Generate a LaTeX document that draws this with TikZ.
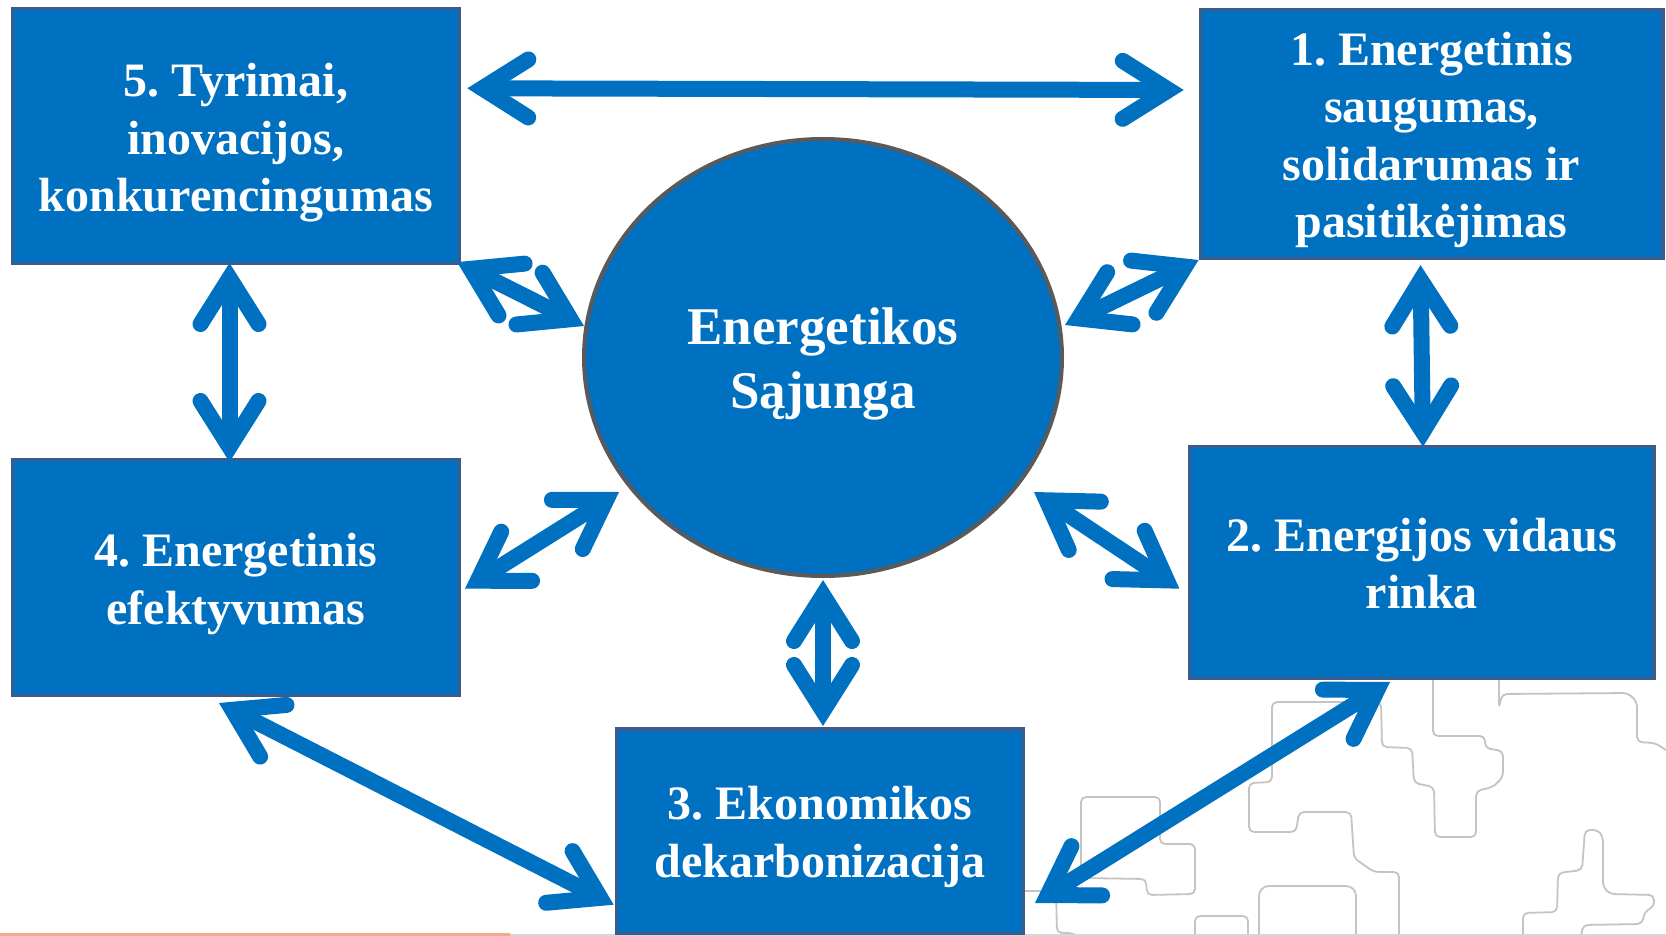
\documentclass[tikz,border=0pt]{standalone}
\usepackage{fontspec}
\setmainfont{Liberation Serif}
\usetikzlibrary{calc,shapes.geometric,arrows.meta}

\definecolor{mainblue}{HTML}{0070C0}
\definecolor{boxedge}{HTML}{3A5C8C}
\definecolor{ringgray}{HTML}{5A5A5A}
\definecolor{decogray}{HTML}{C4C4C4}
\definecolor{salmon}{HTML}{F2A98E}
\definecolor{edgegray}{HTML}{D6D6D6}

\pgfdeclarearrow{
  name = Chev,
  setup code = {
    \pgfarrowssettipend{15pt}
    \pgfarrowssetlineend{-2pt}
    \pgfarrowssetvisualbackend{-54pt}
    \pgfarrowssetbackend{-54pt}
    \pgfarrowshullpoint{15pt}{0pt}
    \pgfarrowsupperhullpoint{-54pt}{37pt}
  },
  drawing code = {
    \pgfsetdash{}{+0pt}
    \pgfsetlinewidth{16pt}
    \pgfsetroundcap
    \pgfsetmiterjoin
    \pgfpathmoveto{\pgfqpoint{-46pt}{29pt}}
    \pgfpathlineto{\pgfqpoint{0pt}{0pt}}
    \pgfpathlineto{\pgfqpoint{-46pt}{-29pt}}
    \pgfusepathqstroke
  },
}

\tikzset{
  box/.style={rectangle, draw=boxedge, line width=3.2pt, fill=mainblue, inner sep=0pt},
  btext/.style={text=white, font=\fontsize{48}{57.6}\selectfont\bfseries\frenchspacing, align=center, inner sep=0pt},
  etext/.style={text=white, font=\fontsize{53}{63.6}\selectfont\bfseries\frenchspacing, align=center, inner sep=0pt},
  conn/.style={draw=mainblue, line width=16pt, arrows={Chev-Chev}},
  deco/.style={draw=decogray, line width=1.8pt, rounded corners=5pt},
}

\begin{document}
\frenchspacing
\begin{tikzpicture}[x=1pt,y=-1pt]
\useasboundingbox (0,0) rectangle (1666,936);
\fill[white] (0,0) rectangle (1666,936);

% background decoration (bottom right)
\draw[deco] (1433,680) -- (1433,736) -- (1485,736) -- (1485,748) -- (1503,751) -- (1503,777) -- (1493,787) -- (1476,791) -- (1476,837) -- (1435,837) -- (1434,787) -- (1414,783) -- (1412,748) -- (1382,747) -- (1381,702) -- (1272,702) -- (1272,782) -- (1249,783) -- (1249,832) -- (1296,832) -- (1299,812) -- (1351,812) -- (1354,858) -- (1374,872) -- (1399,872) -- (1399,936);
\draw[deco] (1499,680) -- (1499,708) -- (1502,694) -- (1628,693) -- (1637,702) -- (1637,742) -- (1655,743) -- (1666,750);
\draw[deco] (1581,936) -- (1583,925) -- (1642,924) -- (1645,911) -- (1654,907) -- (1654,895) -- (1610,894) -- (1603,887) -- (1603,837) -- (1598,830) -- (1585,830) -- (1582,870) -- (1558,873) -- (1557,912) -- (1523,913) -- (1523,936);
\draw[deco] (1081,797) -- (1160,797) -- (1160,844) -- (1195,844) -- (1195,894) -- (1147,895) -- (1146,879) -- (1081,878) -- cycle;
\draw[deco] (1025,891) -- (1056,891) -- (1057,933) -- (1072,933) -- (1078,936);
\draw[deco] (1195,936) -- (1195,916) -- (1248,916) -- (1248,936);
\draw[deco,rounded corners=10pt] (1259,936) -- (1259,886) -- (1356,886) -- (1356,936);

% bottom edge lines
\draw[edgegray, line width=1.5pt] (510,935) -- (1666,935);
\draw[salmon, line width=2.6pt] (0,934.7) -- (510,934.7);

% nodes
\node[box, minimum width=447.4pt, minimum height=255.3pt] (b5) at (235.8,135.85) {};
\node[box, minimum width=462.8pt, minimum height=248.5pt] (b1) at (1431.6,134.15) {};
\node[box, minimum width=447.2pt, minimum height=235.8pt] (b4) at (235.8,577.5) {};
\node[box, minimum width=464.3pt, minimum height=231.5pt] (b2) at (1421.75,562.35) {};
\node[box, minimum width=407pt, minimum height=204.5pt] (b3) at (819.9,831.15) {};
\node[ellipse, draw=ringgray, line width=4pt, fill=mainblue, minimum width=478pt, minimum height=437pt, inner sep=0pt] (E) at (823,357.5) {};

% texts
\node[btext] (t5) at ($(b5.center)+(0,7.1)$) {5. Tyrimai,\\inovacijos,\\konkurencingumas};
\node[btext] (t1) at ($(b1.center)+(0,5.9)$) {1. Energetinis\\saugumas,\\solidarumas ir\\pasitikėjimas};
\node[btext] (t4) at ($(b4.center)+(0,6.25)$) {4. Energetinis\\efektyvumas};
\node[btext] (t2) at ($(b2.center)+(0,1.35)$) {2. Energijos vidaus\\rinka};
\node[btext] (t3) at ($(b3.center)+(0,6)$) {3. Ekonomikos\\dekarbonizacija};
\node[etext] (tE) at ($(E.center)+(0,6.75)$) {Energetikos\\Sąjunga};

% connectors
\draw[conn] ($(b5.east)+(6.2,-47.55)$) -- ($(b1.west)+(-14.9,-44.15)$);
\draw[conn] ($(b5.south east)+(-4,-3)$) -- ($(E.center)+(-239,-31.5)$);
\draw[conn] (b1.south west) -- ($(E.center)+(242,-32.5)$);
\draw[conn] ($(b4.east)+(4,11.2)$) -- ($(E.center)+(-204,134.5)$);
\draw[conn] ($(E.center)+(211,134.5)$) -- ($(b2.west)+(-8.6,26.35)$);
\draw[conn] ($(b5.south)+(-6.3,-2.1)$) -- ($(b4.north)+(-6.3,4)$);
\draw[conn] ($(b1.south)+(-11.1,5.1)$) -- ($(b2.north)+(1.25,1.8)$);
\draw[conn] ($(E.south)+(0,2)$) -- ($(b3.north)+(3.1,-1.3)$);
\draw[conn] ($(b4.south)+(-16.8,6)$) -- ($(b3.west)+(-1.1,73.55)$);
\draw[conn] ($(b3.east)+(10,71.85)$) -- ($(b2.south)+(-31.75,2.3)$);
\end{tikzpicture}
\end{document}
